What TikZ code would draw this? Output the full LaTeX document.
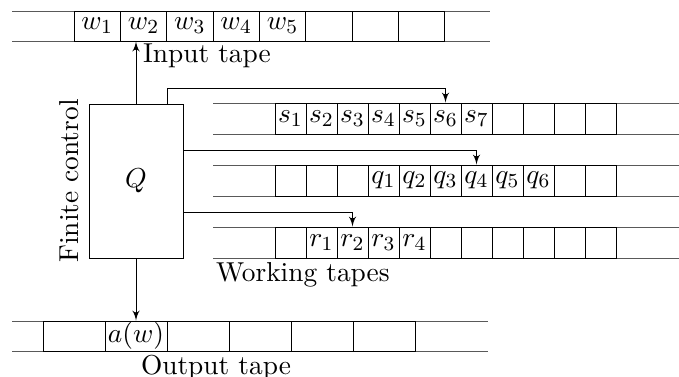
\documentclass[tikz,border=0pt,11pt]{standalone}
\usepackage{amsmath,amssymb}
\usepackage{tikz}
\usetikzlibrary{shapes,arrows}
\tikzstyle{control} = [draw, rectangle, minimum width=37.6pt, minimum height=61.6pt]
\tikzstyle{incell} = [draw, rectangle, minimum width=18.54pt, minimum height=12pt, inner sep=0pt]
\tikzstyle{workcell} = [draw, rectangle, minimum width=12.4pt, minimum height=12.4pt, inner sep=0pt]
\tikzstyle{outcell} = [draw, rectangle, minimum width=24.8pt, minimum height=12pt, inner sep=0pt]
\tikzstyle{tapeline} = [draw, gray!70!black]

\begin{document}
\begin{tikzpicture}[auto, >=latex', x=0.4pt, y=-0.4pt]
    \useasboundingbox (0,0) rectangle (679,376);
    % finite control
    \node [control] (Q) at (136,181) {$Q$};
    \node [rotate=90, anchor=south] (fc) at (Q.west) {Finite control};
    % input tape
    \path [tapeline] (12,11) -- (490,11) (12,41) -- (490,41);
    \foreach \i/\t in {1/$w_1$,2/$w_2$,3/$w_3$,4/$w_4$,5/$w_5$,6/,7/,8/}
      \node [incell] (in\i) at ({50.825+46.35*\i},26) {\t};
    \node [anchor=west, inner sep=1pt] (intape) at (140,56) {Input tape};
    % working tapes
    \path [tapeline] (213,103) -- (679,103) (213,134) -- (679,134);
    \path [tapeline] (213,165) -- (679,165) (213,196) -- (679,196);
    \path [tapeline] (213,227) -- (679,227) (213,258) -- (679,258);
    \foreach \i/\t in {1/$s_1$,2/$s_2$,3/$s_3$,4/$s_4$,5/$s_5$,6/$s_6$,7/$s_7$,8/,9/,10/,11/}
      \node [workcell] (ta\i) at ({259.5+31*\i},118.5) {\t};
    \foreach \i/\t in {1/,2/,3/,4/$q_1$,5/$q_2$,6/$q_3$,7/$q_4$,8/$q_5$,9/$q_6$,10/,11/}
      \node [workcell] (tb\i) at ({259.5+31*\i},180.5) {\t};
    \foreach \i/\t in {1/,2/$r_1$,3/$r_2$,4/$r_3$,5/$r_4$,6/,7/,8/,9/,10/,11/}
      \node [workcell] (tc\i) at ({259.5+31*\i},242.5) {\t};
    \node [anchor=north west, inner sep=1pt] (worktape) at (213,259) {Working tapes};
    % output tape
    \path [tapeline] (12,321) -- (488,321) (12,351) -- (488,351);
    \foreach \i/\t in {1/,2/$a(w)$,3/,4/,5/,6/}
      \node [outcell] (out\i) at ({12+62*\i},336) {\t};
    \node [anchor=north, inner sep=1pt] (outtape) at (216,352) {Output tape};
    % heads
    \draw [->] (Q.north) -- (Q.north |- in2.south);
    \draw [->] (Q.south) -- (Q.south |- out2.north);
    \draw [->] ([xshift=-6.4pt]Q.north east) |- ([yshift=5.6pt]ta6.north) -- (ta6.north);
    \draw [->] ([yshift=12.4pt]Q.east) -| (tb7.north);
    \draw [->] ([yshift=-12.4pt]Q.east) -| (tc3.north);
\end{tikzpicture}
\end{document}
